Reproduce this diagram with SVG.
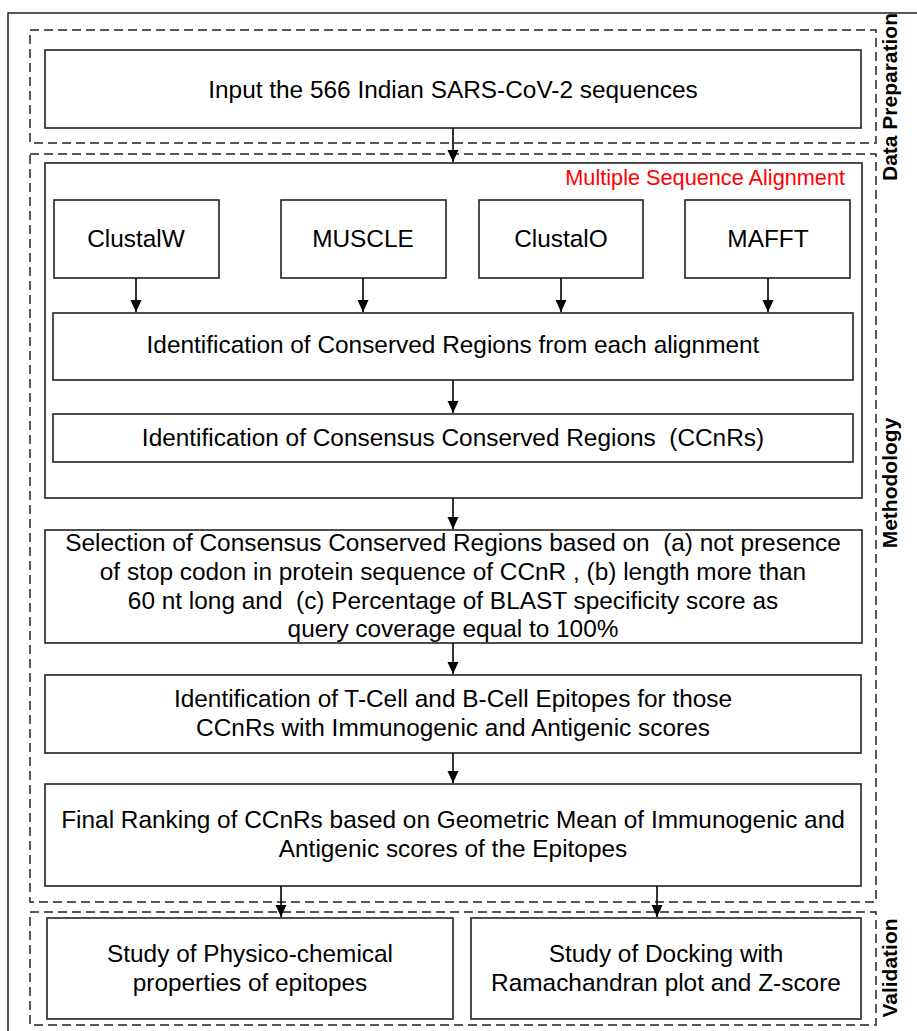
<svg xmlns="http://www.w3.org/2000/svg" width="917" height="1031" viewBox="0 0 917 1031">
<style>
.box{fill:#fff;stroke:#222;stroke-width:1.6}
.dash{fill:none;stroke:#222;stroke-width:1.5;stroke-dasharray:9 5}
.t{font-family:"Liberation Sans",Arial,sans-serif;font-size:24.4px;fill:#000;text-anchor:middle}
.side{font-family:"Liberation Sans",Arial,sans-serif;font-size:21px;font-weight:bold;fill:#000;text-anchor:middle}
.red{font-family:"Liberation Sans",Arial,sans-serif;font-size:21.7px;fill:#f00;text-anchor:end}
.c{stroke:#000;stroke-width:1.6;fill:none;marker-end:url(#ah)}
</style>
<defs>
<marker id="ah" markerUnits="userSpaceOnUse" markerWidth="13" markerHeight="12" refX="12" refY="6" orient="auto" viewBox="0 0 13 12">
<path d="M0,0.5 L12,6 L0,11.5 Z" fill="#000"/>
</marker>
</defs>
<rect width="917" height="1031" fill="#fff"/>
<path d="M8,1031 V13 H917" fill="none" stroke="#222" stroke-width="1.5"/>

<g id="stage-data-preparation">
<rect class="dash" x="30" y="30" width="846" height="113"/>
<text class="side" transform="translate(897,97) rotate(-90)">Data Preparation</text>
</g>
<g id="stage-methodology">
<rect class="dash" x="30" y="154" width="846" height="748"/>
<text class="side" transform="translate(897,483) rotate(-90)">Methodology</text>
</g>
<g id="stage-validation">
<rect class="dash" x="30" y="912" width="846" height="113"/>
<text class="side" transform="translate(897,968) rotate(-90)">Validation</text>
</g>

<g id="input">
<rect class="box" x="45" y="50" width="816" height="78"/>
<text class="t" x="453" y="98">Input the 566 Indian SARS-CoV-2 sequences</text>
</g>

<g id="msa">
<rect class="box" x="45" y="163" width="817" height="335"/>
<text class="red" x="845" y="185">Multiple Sequence Alignment</text>
</g>

<g id="clustalw">
<rect class="box" x="54" y="200" width="165" height="78"/>
<text class="t" x="136" y="247">ClustalW</text>
</g>
<g id="muscle">
<rect class="box" x="281" y="200" width="165" height="78"/>
<text class="t" x="363" y="247">MUSCLE</text>
</g>
<g id="clustalo">
<rect class="box" x="479" y="200" width="164" height="78"/>
<text class="t" x="561" y="247">ClustalO</text>
</g>
<g id="mafft">
<rect class="box" x="685" y="200" width="165" height="78"/>
<text class="t" x="768" y="247">MAFFT</text>
</g>

<g id="conserved-regions">
<rect class="box" x="53" y="313" width="800" height="67"/>
<text class="t" x="453" y="353">Identification of Conserved Regions from each alignment</text>
</g>

<g id="ccnrs">
<rect class="box" x="53" y="414" width="800" height="48"/>
<text class="t" x="453" y="446" xml:space="preserve">Identification of Consensus Conserved Regions  (CCnRs)</text>
</g>

<g id="selection">
<rect class="box" x="45" y="530" width="817" height="113"/>
<text class="t" x="453" y="551" xml:space="preserve">Selection of Consensus Conserved Regions based on  (a) not presence</text>
<text class="t" x="453" y="580">of stop codon in protein sequence of CCnR , (b) length more than</text>
<text class="t" x="453" y="609" xml:space="preserve">60 nt long and  (c) Percentage of BLAST specificity score as</text>
<text class="t" x="453" y="637">query coverage equal to 100%</text>
</g>

<g id="epitopes">
<rect class="box" x="45" y="675" width="816" height="78"/>
<text class="t" x="453" y="707">Identification of T-Cell and B-Cell Epitopes for those</text>
<text class="t" x="453" y="736">CCnRs with Immunogenic and Antigenic scores</text>
</g>

<g id="ranking">
<rect class="box" x="45" y="784" width="816" height="102"/>
<text class="t" x="453" y="828">Final Ranking of CCnRs based on Geometric Mean of Immunogenic and</text>
<text class="t" x="453" y="857">Antigenic scores of the Epitopes</text>
</g>

<g id="physico">
<rect class="box" x="47" y="918" width="406" height="101"/>
<text class="t" x="250" y="962">Study of Physico-chemical</text>
<text class="t" x="250" y="991">properties of epitopes</text>
</g>

<g id="docking">
<rect class="box" x="471" y="918" width="390" height="101"/>
<text class="t" x="666" y="962">Study of Docking with</text>
<text class="t" x="666" y="991">Ramachandran plot and Z-score</text>
</g>

<g id="connectors">
<path class="c" d="M453,128 V162"/>
<path class="c" d="M136,278 V312"/>
<path class="c" d="M363,278 V312"/>
<path class="c" d="M561,278 V312"/>
<path class="c" d="M768,278 V312"/>
<path class="c" d="M453,380 V413"/>
<path class="c" d="M453,498 V529"/>
<path class="c" d="M453,643 V674"/>
<path class="c" d="M453,753 V783"/>
<path class="c" d="M281,886 V917"/>
<path class="c" d="M657,886 V917"/>
</g>
</svg>
